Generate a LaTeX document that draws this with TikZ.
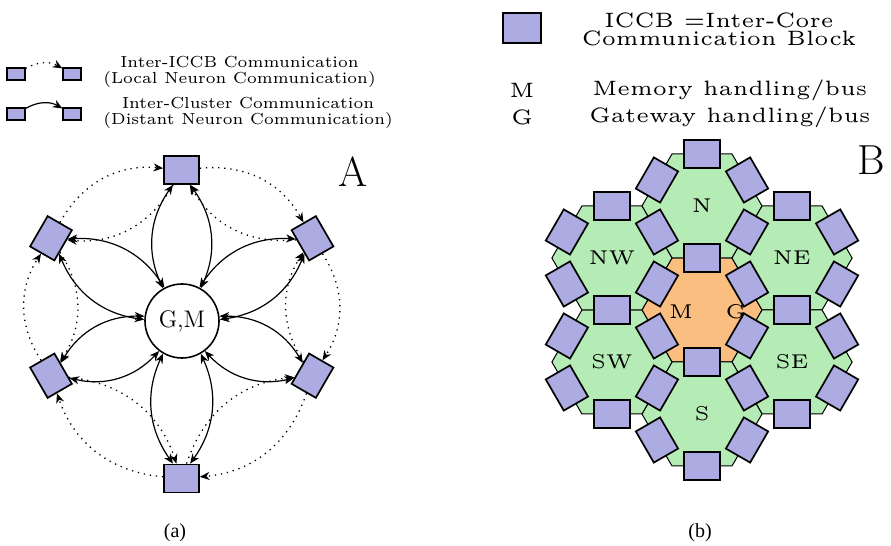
\documentclass[tikz,border=0pt]{standalone}
\usepackage{fontspec}
\usetikzlibrary{arrows.meta,calc}
\newfontfamily\lmsix{lmroman6-regular}[Extension=.otf]
\newfontfamily\lmfive{lmroman5-regular}[Extension=.otf]
\newfontfamily\capfont{Liberation Serif}
\definecolor{iccbblue}{RGB}{172,172,226}
\definecolor{coregreen}{RGB}{181,236,181}
\definecolor{huborange}{RGB}{250,190,128}

\begin{document}
\begin{tikzpicture}[x=0.5pt,y=0.5pt,
  tip/.tip={Stealth[length=4.8pt,width=4pt,inset=1.5pt]},
  iccb/.style={draw=black, line width=0.85pt, fill=iccbblue, inner sep=0pt,
               minimum width=17.5pt, minimum height=14pt},
  hexiccb/.style={iccb, minimum width=18pt, minimum height=14pt},
  keybox/.style={iccb, line width=0.6pt, minimum width=9pt, minimum height=6pt},
  link/.style={line width=0.6pt, tip-tip},
  ring/.style={line width=0.65pt, dash pattern=on 0.65pt off 2.4pt, -tip},
  hexline/.style={draw=black, line width=0.5pt},
  legtext/.style={font=\lmsix\fontsize{8}{8}\selectfont, align=center, inner sep=0pt},
  keytext/.style={font=\lmfive\fontsize{10.4}{9}\selectfont, align=center, inner sep=0pt},
  corelabel/.style={font=\lmfive\fontsize{10}{12}\selectfont, inner sep=0pt},
  panel/.style={font=\fontsize{21}{24}\selectfont, inner sep=0pt},
  caption/.style={font=\capfont\fontsize{10}{12}\selectfont, inner sep=0pt}]

\useasboundingbox (0,0) rectangle (891,546);

% ---------------- left: legend ----------------
\node[keybox] (k1) at (16,472) {};
\node[keybox] (k2) at (72,472) {};
\node[keybox] (k3) at (16,432) {};
\node[keybox] (k4) at (72,432) {};
\draw[ring] (k1) to[bend left=30] (k2);
\draw[link, -tip] (k3) to[bend left=30] (k4);
\node[legtext, anchor=west] (kt1) at (103,474)
  {Inter-ICCB Communication\\(Local Neuron Communication)};
\node[legtext, anchor=west] (kt2) at (103,433)
  {Inter-Cluster Communication\\(Distant Neuron Communication)};

% ---------------- left: cluster around the G,M hub ----------------
\node[circle, draw=black, line width=0.8pt, minimum size=37pt, inner sep=0pt,
      font=\fontsize{12}{14}\selectfont] (gm) at (182,225) {G,M};

\node[iccb] (T)  at (181.5,376) {};
\node[iccb] (B)  at (181.5,67.5) {};
\node[iccb, rotate=60]  (UL) at (51,307.7) {};
\node[iccb, rotate=-60] (UR) at (312.5,307.7) {};
\node[iccb, rotate=-60] (LL) at (51,170.3) {};
\node[iccb, rotate=60]  (LR) at (312.5,170.3) {};

\node[panel] (lblA) at (353,374) {A};

% petals: hub <-> every ICCB
\foreach \b in {T,UL,LL,B,LR,UR}{
  \draw[link] (gm) to[bend left=30] (\b);
  \draw[link] (gm) to[bend right=30] (\b);
}

% ring: clockwise outside, counter-clockwise inside
\foreach \a/\b in {UL/T, T/UR, UR/LR, LR/B, B/LL, LL/UL}{
  \draw[ring] (\a) to[bend left=33] (\b);
  \draw[ring] (\b) to[bend left=33] (\a);
}

\node[caption] (capa) at (175,13) {(a)};

% ---------------- right: legend ----------------
\node[iccb, minimum width=19pt, minimum height=15pt] (kb) at (522,518) {};
\node[keytext] (kbt) at (719,517) {ICCB =Inter-Core\\Communication Block};
\node[keytext] (km)  at (522,456) {M};
\node[keytext] (kmt) at (730,456) {Memory handling/bus};
\node[keytext] (kg)  at (522,429) {G};
\node[keytext] (kgt) at (730,429) {Gateway handling/bus};

% ---------------- right: hexagonal cores ----------------
% centre hub
\draw[hexline, fill=huborange] (702,236) +(0:60.04) -- +(60:60.04) -- +(120:60.04)
  -- +(180:60.04) -- +(240:60.04) -- +(300:60.04) -- cycle;
% outer cores, listed with their direction from the hub
\foreach \n/\d in {N/90, NE/30, SE/-30, S/-90, SW/-150, NW/150}{
  \coordinate (c-\n) at ($(702,236)+(\d:104)$);
  \draw[hexline, fill=coregreen] (c-\n) +(0:60.04) -- +(60:60.04) -- +(120:60.04)
    -- +(180:60.04) -- +(240:60.04) -- +(300:60.04) -- cycle;
}
% ICCBs on the hub edges
\foreach \e in {30,90,150,210,270,330}{
  \node[hexiccb, rotate=\e-90] (h-\e) at ($(702,236)+(\e:52)$) {};
}
% ICCBs on the outer edges and between neighbouring cores
\foreach \n/\d in {N/90, NE/30, SE/-30, S/-90, SW/-150, NW/150}{
  \foreach \o in {-60,0,60,120}{
    \pgfmathsetmacro\e{\d+\o}
    \node[hexiccb, rotate=\e-90] (b-\n-\o) at ($(c-\n)+(\e:52)$) {};
  }
}
\node[corelabel] (lN)  at (702,340) {N};
\node[corelabel] (lNW) at (612,288) {NW};
\node[corelabel] (lNE) at (792,288) {NE};
\node[corelabel] (lSW) at (612,184) {SW};
\node[corelabel] (lSE) at (792,184) {SE};
\node[corelabel] (lS)  at (702,132) {S};
\node[corelabel] (lM)  at (681,234) {M};
\node[corelabel] (lG)  at (736,234) {G};

\node[panel] (lblB) at (871,386) {B};
\node[caption] (capb) at (700,13) {(b)};
\end{tikzpicture}
\end{document}
